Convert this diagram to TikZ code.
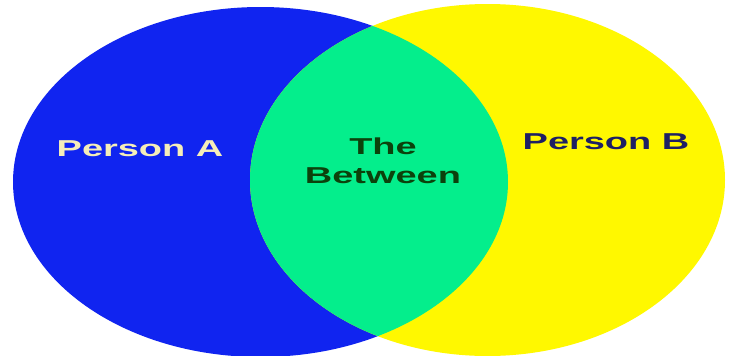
\documentclass[tikz,border=0pt]{standalone}
\usepackage{fontspec}
\setmainfont{Liberation Sans}
\definecolor{personBlue}{RGB}{16,36,240}
\definecolor{personYellow}{RGB}{255,248,0}
\definecolor{betweenGreen}{RGB}{4,238,140}
\definecolor{paleText}{RGB}{245,238,185}
\definecolor{darkGreen}{RGB}{12,66,12}
\definecolor{navyText}{RGB}{30,32,100}

\begin{document}
\begin{tikzpicture}[
  x=1pt, y=-1pt,
  nameText/.style={font=\fontsize{23}{29}\selectfont\bfseries, xscale=1.65,
                   align=center, inner sep=0pt}
]
\useasboundingbox[fill=white] (0,0) rectangle (729,356);
% the two circles
\fill[personBlue] (260.5,182) ellipse [x radius=247.5pt, y radius=175pt];
\fill[personYellow] (487.5,180) ellipse [x radius=237.5pt, y radius=176pt];
% overlap
\begin{scope}
  \clip (260.5,182) ellipse [x radius=247.5pt, y radius=175pt];
  \fill[betweenGreen] (487.5,180) ellipse [x radius=237.5pt, y radius=176pt];
\end{scope}
\node[nameText, text=paleText] (personA) at (140,149) {Person A};
\node[nameText, text=darkGreen] (between) at (383,161) {The\\Between};
\node[nameText, text=navyText] (personB) at (606,142) {Person B};
\end{tikzpicture}
\end{document}
